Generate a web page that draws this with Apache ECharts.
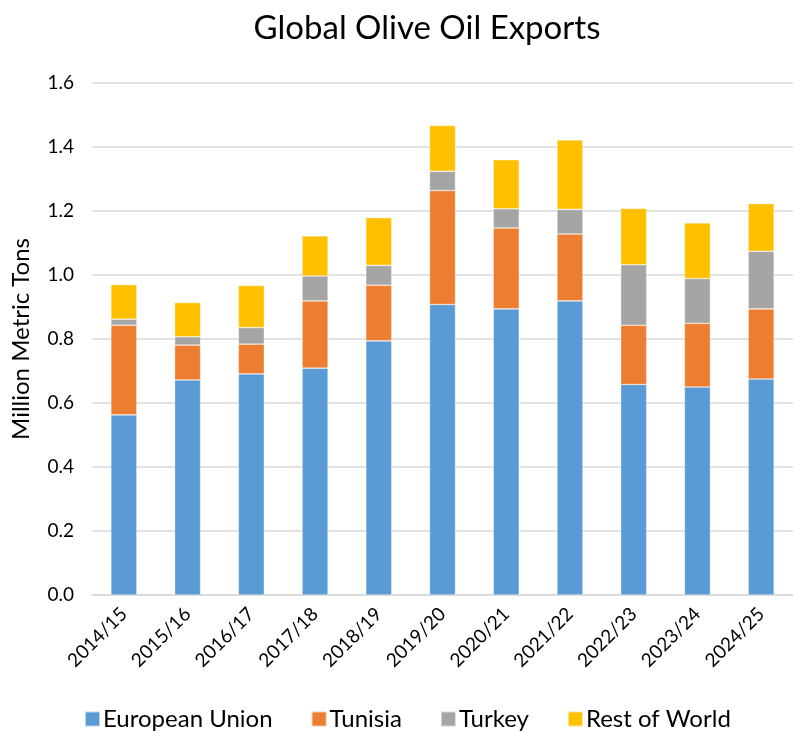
<!DOCTYPE html>
<html>
<head>
<meta charset="utf-8">
<script src="https://cdn.jsdelivr.net/npm/echarts@6/dist/echarts.min.js"></script>
<style>html,body{margin:0;padding:0;background:#fff}#c{width:793px;height:731px}</style>
</head>
<body>
<div id="c"></div>
<script>
var categories = ['2014/15','2015/16','2016/17','2017/18','2018/19','2019/20','2020/21','2021/22','2022/23','2023/24','2024/25'];
var euValues = [0.563, 0.672, 0.691, 0.709, 0.794, 0.908, 0.894, 0.919, 0.658, 0.650, 0.675];
var tunisiaValues = [0.280, 0.109, 0.093, 0.210, 0.174, 0.356, 0.253, 0.209, 0.185, 0.199, 0.219];
var turkeyValues = [0.019, 0.026, 0.052, 0.078, 0.062, 0.060, 0.060, 0.077, 0.189, 0.140, 0.180];
var rowValues = [0.108, 0.107, 0.131, 0.125, 0.149, 0.143, 0.153, 0.217, 0.176, 0.174, 0.149];
var seriesNames = ['European Union','Tunisia','Turkey','Rest of World'];
var colors = ['#5B9BD5','#ED7D31','#A5A5A5','#FFC000'];
var font = 'Lato, "Open Sans", sans-serif';

var chart = echarts.init(document.getElementById('c'), null, {renderer:'canvas'});
var data = [euValues, tunisiaValues, turkeyValues, rowValues];
var series = seriesNames.map(function(n,i){
  return {
    name:n, type:'bar', stack:'total', data:data[i], barWidth:26,
    itemStyle:{color:colors[i], borderColor:'rgba(255,255,255,0.6)', borderWidth:0.6},
    emphasis:{disabled:true}
  };
});
chart.setOption({
  animation:false,
  color:colors,
  title:{text:'Global Olive Oil Exports', left:422, top:7, textAlign:'center',
    textStyle:{fontFamily:font, fontWeight:'normal', fontSize:33, color:'#000'}},
  grid:{left:92, right:-9, top:83, bottom:136, containLabel:false},
  legend:{top:702, left:79, itemWidth:15, itemHeight:15, itemGap:38, icon:'rect',
    textStyle:{fontFamily:font, fontSize:24, color:'#000', padding:[0,0,0,-2]}, selectedMode:false},
  xAxis:{type:'category', data:categories,
    axisLine:{lineStyle:{color:'#d9d9d9', width:1.5}}, axisTick:{show:false},
    axisLabel:{rotate:45, fontFamily:font, fontSize:19, color:'#000', margin:16, interval:0}},
  yAxis:{type:'value', min:0, max:1.6, interval:0.2,
    name:'Million Metric Tons', nameLocation:'middle', nameGap:59,
    nameTextStyle:{fontFamily:font, fontSize:24, color:'#000'},
    axisLine:{show:false}, axisTick:{show:false},
    axisLabel:{fontFamily:font, fontSize:19, color:'#000', margin:18, formatter:function(v){return v.toFixed(1);}},
    splitLine:{lineStyle:{color:'#d9d9d9', width:1.5}}},
  series:series
});
</script>
</body>
</html>
